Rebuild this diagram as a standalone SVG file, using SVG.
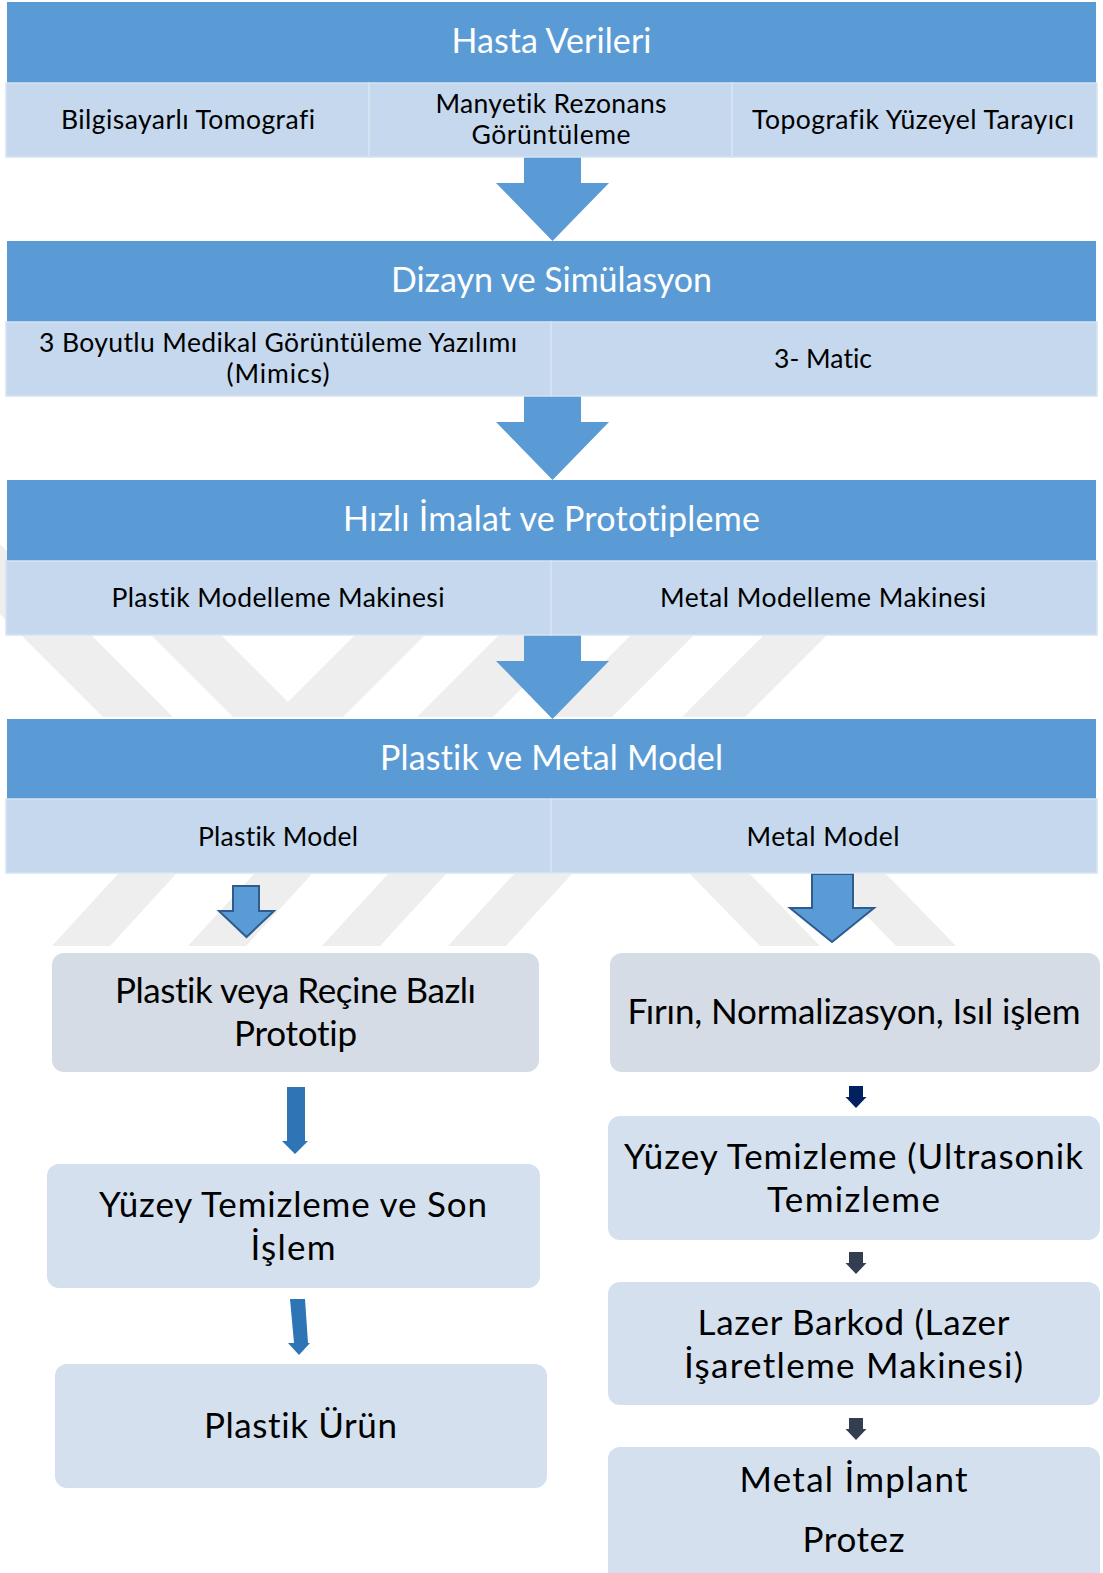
<svg xmlns="http://www.w3.org/2000/svg" width="1103" height="1573" viewBox="0 0 1103 1573">
<style>
text{font-variant-ligatures:none;font-feature-settings:"liga" 0,"dlig" 0}
.hd{fill:#5B9BD5}
.sub{fill:#C5D8ED;stroke:#D6E3F2;stroke-width:1.5}
.ht{font-family:Lato,"Liberation Sans",sans-serif;font-size:34px;fill:#FFFFFF;text-anchor:middle}
.st{font-family:Lato,"Liberation Sans",sans-serif;font-size:26.5px;fill:#000000;text-anchor:middle}
.nt{font-family:Lato,"Liberation Sans",sans-serif;font-size:35px;fill:#000000;text-anchor:middle}
.boxA{fill:#D6DCE5}
.boxB{fill:#D5E0EE}
.wm{fill:#EEEEEE}
.big{fill:#5B9BD5}
.out{fill:#5B9BD5;stroke:#2F5C8F;stroke-width:2;stroke-linejoin:miter}
.thin{fill:#2E75B6}
</style>
<rect width="1103" height="1573" fill="#FFFFFF"/>
<g id="watermark">
<polygon class="wm" points="-70,545 1,545 92,636 173,717 103,717 22,636"/>
<polygon class="wm" points="152,636 222,636 288,702 354,636 424,636 343,717 233,717"/>
<polygon class="wm" points="498,636 574,636 493,717 417,717"/>
<polygon class="wm" points="630,636 693,636 612,717 549,717"/>
<polygon class="wm" points="763,636 826,636 745,717 682,717"/>
<polygon class="wm" points="118,874 176,874 110,946 52,946"/>
<polygon class="wm" points="254,874 312,874 246,946 188,946"/>
<polygon class="wm" points="388,874 446,874 380,946 322,946"/>
<polygon class="wm" points="514,874 572,874 506,946 448,946"/>
<polygon class="wm" points="690,874 750,874 820,946 760,946"/>
<polygon class="wm" points="826,874 886,874 956,946 896,946"/>
</g>
<g id="connectors">
<polygon class="big" points="524,156 581,156 581,183 609,183 552.5,241 496,183 524,183"/>
<polygon class="big" points="524,395 581,395 581,422 609,422 552.5,480 496,422 524,422"/>
<polygon class="big" points="524,634 581,634 581,661 609,661 552.5,719 496,661 524,661"/>
<polygon class="out" points="233,886 259,886 259,911 274,911 246.5,937 219,911 233,911"/>
<polygon class="out" points="812,874 853,874 853,908 874,908 832,942 790,908 812,908"/>
<polygon class="thin" points="287,1087 305,1087 305,1141 308,1141 295,1154 282,1141 287,1141"/>
<polygon class="thin" points="290,1299 305,1299 308,1343 310,1343 299,1355 288,1343 294,1343"/>
<polygon fill="#002060" points="849,1086 863,1086 863,1097 866.5,1097 856,1108 845.5,1097 849,1097"/>
<polygon fill="#333F50" points="849,1252 863,1252 863,1263 866.5,1263 856,1274 845.5,1263 849,1263"/>
<polygon fill="#333F50" points="849,1418 863,1418 863,1429 866.5,1429 856,1440 845.5,1429 849,1429"/>
</g>
<g id="block1">
<rect class="hd" x="7" y="2" width="1089" height="81"/>
<rect class="sub" x="6" y="83" width="363" height="74"/>
<rect class="sub" x="369" y="83" width="363" height="74"/>
<rect class="sub" x="732" y="83" width="365" height="74"/>
<text class="ht" x="551.5" y="53" textLength="200">Hasta Verileri</text>
<text class="st" x="188" y="129" textLength="254">Bilgisayarlı Tomografi</text>
<text class="st" x="551" y="113" textLength="231">Manyetik Rezonans</text>
<text class="st" x="551" y="144" textLength="159">Görüntüleme</text>
<text class="st" x="913" y="129" textLength="322">Topografik Yüzeyel Tarayıcı</text>
</g>
<g id="block2">
<rect class="hd" x="7" y="241" width="1089" height="81"/>
<rect class="sub" x="6" y="322" width="545" height="74"/>
<rect class="sub" x="551" y="322" width="546" height="74"/>
<text class="ht" x="551.5" y="292" textLength="321">Dizayn ve Simülasyon</text>
<text class="st" x="278" y="352" textLength="478">3 Boyutlu Medikal Görüntüleme Yazılımı</text>
<text class="st" x="278" y="383" textLength="103">(Mimics)</text>
<text class="st" x="823" y="368" textLength="98">3- Matic</text>
</g>
<g id="block3">
<rect class="hd" x="7" y="480" width="1089" height="81"/>
<rect class="sub" x="6" y="561" width="545" height="74"/>
<rect class="sub" x="551" y="561" width="546" height="74"/>
<text class="ht" x="551.5" y="531" textLength="417">Hızlı İmalat ve Prototipleme</text>
<text class="st" x="278" y="607" textLength="333">Plastik Modelleme Makinesi</text>
<text class="st" x="823" y="607" textLength="326">Metal Modelleme Makinesi</text>
</g>
<g id="block4">
<rect class="hd" x="7" y="719" width="1089" height="80"/>
<rect class="sub" x="6" y="799" width="545" height="74"/>
<rect class="sub" x="551" y="799" width="546" height="74"/>
<text class="ht" x="551.5" y="770" textLength="343">Plastik ve Metal Model</text>
<text class="st" x="278" y="846" textLength="160">Plastik Model</text>
<text class="st" x="823" y="846" textLength="153">Metal Model</text>
</g>
<g id="node-prototip">
<rect class="boxA" x="52" y="953" width="487" height="119" rx="12"/>
<text class="nt" x="295.5" y="1003" textLength="361">Plastik veya Reçine Bazlı</text>
<text class="nt" x="295.5" y="1046" textLength="123">Prototip</text>
</g>
<g id="node-yuzey-son">
<rect class="boxB" x="47" y="1164" width="493" height="124" rx="12"/>
<text class="nt" x="293" y="1217" textLength="388">Yüzey Temizleme ve Son</text>
<text class="nt" x="293" y="1260" textLength="85">İşlem</text>
</g>
<g id="node-plastik-urun">
<rect class="boxB" x="55" y="1364" width="492" height="124" rx="12"/>
<text class="nt" x="300.5" y="1438" textLength="193">Plastik Ürün</text>
</g>
<g id="node-firin">
<rect class="boxA" x="610" y="953" width="490" height="119" rx="12"/>
<text class="nt" x="854" y="1024" textLength="453">Fırın, Normalizasyon, Isıl işlem</text>
</g>
<g id="node-ultrasonik">
<rect class="boxB" x="608" y="1116" width="492" height="124" rx="12"/>
<text class="nt" x="853.5" y="1169" textLength="459">Yüzey Temizleme (Ultrasonik</text>
<text class="nt" x="853.5" y="1212" textLength="173">Temizleme</text>
</g>
<g id="node-lazer">
<rect class="boxB" x="608" y="1282" width="492" height="123" rx="12"/>
<text class="nt" x="853.5" y="1335" textLength="312">Lazer Barkod (Lazer</text>
<text class="nt" x="853.5" y="1378" textLength="339">İşaretleme Makinesi)</text>
</g>
<g id="node-metal-implant">
<rect class="boxB" x="608" y="1447" width="492" height="140" rx="12"/>
<text class="nt" x="853.5" y="1492" textLength="228">Metal İmplant</text>
<text class="nt" x="853.5" y="1552" textLength="102">Protez</text>
</g>
</svg>
